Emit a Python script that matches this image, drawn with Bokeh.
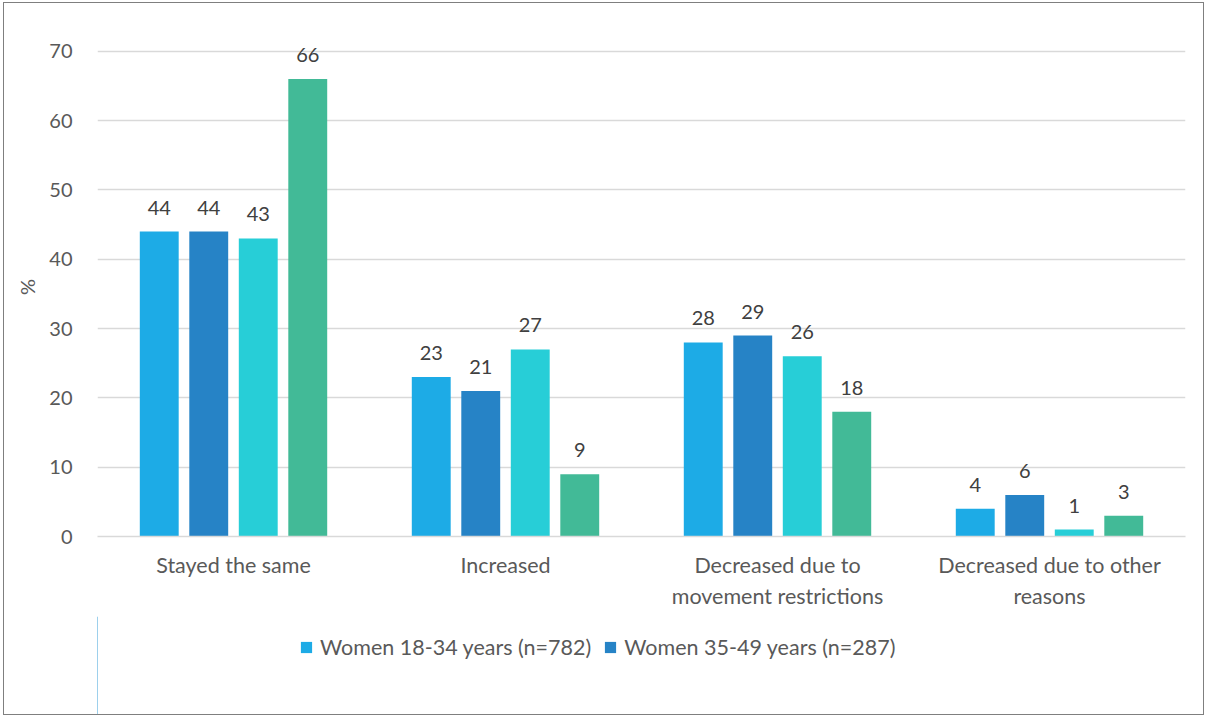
from bokeh.plotting import figure
from bokeh.layouts import column
from bokeh.models import ColumnDataSource, Range1d, FixedTicker, LabelSet, Legend, LegendItem
from bokeh.core.properties import value
from bokeh.embed import file_html
from bokeh.resources import INLINE

categories = ["Stayed the same", "Increased", "Decreased due to\nmovement restrictions", "Decreased due to other\nreasons"]
series_names = ["Women 18-34 years (n=782)", "Women 35-49 years (n=287)", "Series 3", "Series 4"]
s1 = [44, 23, 28, 4]
s2 = [44, 21, 29, 6]
s3 = [43, 27, 26, 1]
s4 = [66, 9, 18, 3]
y_ticks = [0, 10, 20, 30, 40, 50, 60, 70]

colors = ["#1DABE6", "#2683C6", "#27CED7", "#42BA97"]
FONT = "Lato"
TXT = "#595959"

p = figure(frame_width=1088, frame_height=499, output_backend="svg", toolbar_location=None,
           x_range=Range1d(0, len(categories)), y_range=Range1d(0, 72),
           min_border_left=93, min_border_right=18, min_border_top=34, min_border_bottom=80)
p.outline_line_color = None
p.background_fill_color = "white"
p.border_fill_color = "white"

pitch = 0.182
width = 0.143
renderers = []
for k, (vals, col) in enumerate(zip([s1, s2, s3, s4], colors)):
    xs = [i + 0.5 + (k - 1.5) * pitch for i in range(len(categories))]
    src = ColumnDataSource(dict(x=xs, top=vals, lab=[str(v) for v in vals]))
    r = p.vbar(x="x", top="top", width=width, source=src, fill_color=col, line_color=None)
    renderers.append(r)
    p.add_layout(LabelSet(x="x", y="top", text="lab", source=src, text_align="center",
                          text_baseline="bottom", y_offset=17, text_font=value(FONT),
                          text_font_size=value("20px"), text_color=value("#404040")))

p.xaxis.ticker = FixedTicker(ticks=[i + 0.5 for i in range(len(categories))])
p.xaxis.major_label_overrides = {i + 0.5: c for i, c in enumerate(categories)}
p.xaxis.major_tick_line_color = None
p.xaxis.minor_tick_line_color = None
p.xaxis.axis_line_color = "#D9D9D9"
p.xaxis.axis_line_width = 1.5
p.xaxis.major_label_text_font = FONT
p.xaxis.major_label_text_font_size = "21.5px"
p.xaxis.major_label_text_color = TXT
p.xaxis.major_label_standoff = 9
p.xgrid.grid_line_color = None

p.yaxis.ticker = FixedTicker(ticks=y_ticks)
p.yaxis.major_tick_line_color = None
p.yaxis.minor_tick_line_color = None
p.yaxis.axis_line_color = None
p.yaxis.major_label_text_font = FONT
p.yaxis.major_label_text_font_size = "20px"
p.yaxis.major_label_text_color = TXT
p.yaxis.major_label_standoff = 19
p.yaxis.axis_label = "%"
p.yaxis.axis_label_text_font = FONT
p.yaxis.axis_label_text_font_size = "20px"
p.yaxis.axis_label_text_font_style = "normal"
p.yaxis.axis_label_text_color = TXT
p.yaxis.axis_label_standoff = 7
p.ygrid.grid_line_color = "#D9D9D9"
p.ygrid.grid_line_width = 1.5

# legend panel (only the first two series are listed, as in the source chart)
p2 = figure(frame_width=1199, frame_height=98, output_backend="svg", toolbar_location=None,
            x_range=Range1d(0, 1), y_range=Range1d(0, 1),
            x_axis_location=None, y_axis_location=None,
            min_border_left=0, min_border_right=0, min_border_top=0, min_border_bottom=0)
p2.grid.visible = False
p2.outline_line_color = None
p2.border_fill_color = "white"
p2.background_fill_color = "white"
leg_items = []
for k, vals in enumerate([s1, s2]):
    # swatch source: placed outside the visible range of this legend-only panel
    rr = p2.vbar(x=[-5.0], top=[vals[0]], width=0.1, fill_color=colors[k], line_color=None)
    leg_items.append(LegendItem(label=series_names[k], renderers=[rr]))
legend = Legend(items=leg_items, orientation="horizontal", location=(295, 54),
                border_line_color=None, background_fill_alpha=0,
                label_text_font=FONT, label_text_font_size="21.5px", label_text_color=TXT,
                glyph_width=14, glyph_height=14, label_standoff=7, spacing=12,
                margin=0, padding=0)
p2.add_layout(legend, "center")

layout = column(p, p2, spacing=0)
layout.margin = (3, 0, 0, 4)
layout.styles = {"outline": "1px solid #7F7F7F"}

open("out.html", "w").write(file_html(layout, INLINE))
